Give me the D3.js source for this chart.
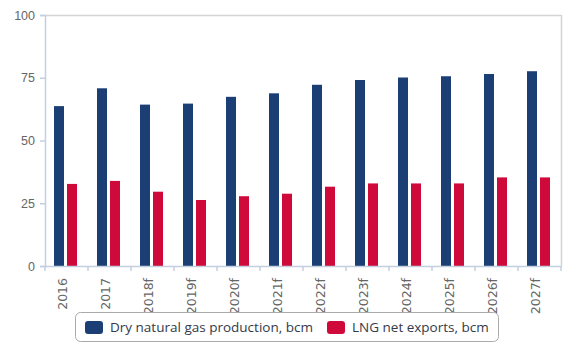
<!DOCTYPE html>
<html>
<head>
<meta charset="utf-8">
<script src="https://cdn.jsdelivr.net/npm/d3@7"></script>
<style>
  body { margin: 0; background: #fff; }
  svg { display: block; font-family: "DejaVu Sans", sans-serif; }
</style>
</head>
<body>
<svg id="chart" width="584" height="353"></svg>
<script>
'use strict';

var years = ["2016", "2017", "2018f", "2019f", "2020f", "2021f", "2022f", "2023f", "2024f", "2025f", "2026f", "2027f"];
var production = [63.7, 70.8, 64.3, 64.7, 67.4, 68.8, 72.2, 74.1, 75.1, 75.6, 76.5, 77.6];
var lngExports = [32.7, 33.9, 29.6, 26.3, 27.8, 28.8, 31.6, 32.9, 32.9, 32.9, 35.3, 35.3];
var yTicks = [0, 25, 50, 75, 100];
var seriesNames = ["Dry natural gas production, bcm", "LNG net exports, bcm"];
var seriesColors = ["#1b3f74", "#cf0a3a"];

var margin = { left: 45, right: 23, top: 15, bottom: 87 };
var width = 584, height = 353;

var svg = d3.select("#chart");

var x = d3.scaleBand()
  .domain(years)
  .range([margin.left, width - margin.right]);

var y = d3.scaleLinear()
  .domain([0, 100])
  .range([height - margin.bottom, margin.top]);

// plot frame (top and right)
svg.append("path")
  .attr("d", "M" + margin.left + "," + (margin.top + 0.5)
    + "H" + (width - margin.right + 0.5)
    + "V" + y(0))
  .attr("fill", "none")
  .attr("stroke", "#d4d4d4")
  .attr("stroke-width", 1.5);

// bars
var bw = 10, gap = 3;
var series = [production, lngExports];
series.forEach(function (vals, i) {
  svg.append("g")
    .selectAll("rect")
    .data(vals)
    .enter()
    .append("rect")
      .attr("x", function (d, j) {
        var c = x(years[j]) + x.bandwidth() / 2;
        return i === 0 ? c - gap / 2 - bw - 1 : c + gap / 2 - 1;
      })
      .attr("y", function (d) { return y(d); })
      .attr("width", bw)
      .attr("height", function (d) { return y(0) - y(d); })
      .attr("fill", seriesColors[i]);
});

// y axis
var yAxis = svg.append("g")
  .attr("transform", "translate(" + margin.left + ",0)")
  .call(d3.axisLeft(y).tickValues(yTicks).tickSize(5).tickPadding(5));
yAxis.select(".domain").attr("stroke", "#c3cfdf").attr("stroke-width", 1.5);
yAxis.selectAll(".tick line").attr("stroke", "#c3cfdf").attr("stroke-width", 1.5);
yAxis.selectAll(".tick text")
  .attr("fill", "#666")
  .style("font-size", "12.5px");

// x axis
var xAxis = svg.append("g")
  .attr("transform", "translate(0," + y(0) + ")")
  .call(d3.axisBottom(x).tickSize(0).tickFormat(""));
xAxis.select(".domain").attr("stroke", "#c3cfdf").attr("stroke-width", 1.5);

// category separator ticks
svg.append("g")
  .selectAll("line")
  .data(years.concat(["end"]))
  .enter()
  .append("line")
    .attr("x1", function (d, i) { return margin.left + i * x.bandwidth(); })
    .attr("x2", function (d, i) { return margin.left + i * x.bandwidth(); })
    .attr("y1", y(0))
    .attr("y2", y(0) + 5)
    .attr("stroke", "#c3cfdf")
    .attr("stroke-width", 1.5);

// rotated category labels
svg.append("g")
  .selectAll("text")
  .data(years)
  .enter()
  .append("text")
    .attr("transform", function (d) {
      return "translate(" + (x(d) + x.bandwidth() / 2 - 4) + "," + (y(0) + 12) + ") rotate(-90)";
    })
    .attr("text-anchor", "end")
    .attr("dy", "0.35em")
    .attr("fill", "#666")
    .style("font-size", "12.5px")
    .text(function (d) { return d; });

// legend
var legend = svg.append("g");
legend.append("rect")
  .attr("x", 75.5).attr("y", 312.5)
  .attr("width", 423).attr("height", 29)
  .attr("rx", 5)
  .attr("fill", "#fff")
  .attr("stroke", "#aaa");

var legendX = [85, 327];
seriesNames.forEach(function (name, i) {
  legend.append("rect")
    .attr("x", legendX[i]).attr("y", 321)
    .attr("width", 18).attr("height", 13)
    .attr("rx", 3)
    .attr("fill", seriesColors[i]);
  legend.append("text")
    .attr("x", legendX[i] + 25).attr("y", 327.5)
    .attr("dy", "0.35em")
    .attr("fill", "#333a4a")
    .style("font-family", "'Open Sans', sans-serif")
    .style("font-size", "13.5px")
    .text(name);
});
</script>
</body>
</html>
